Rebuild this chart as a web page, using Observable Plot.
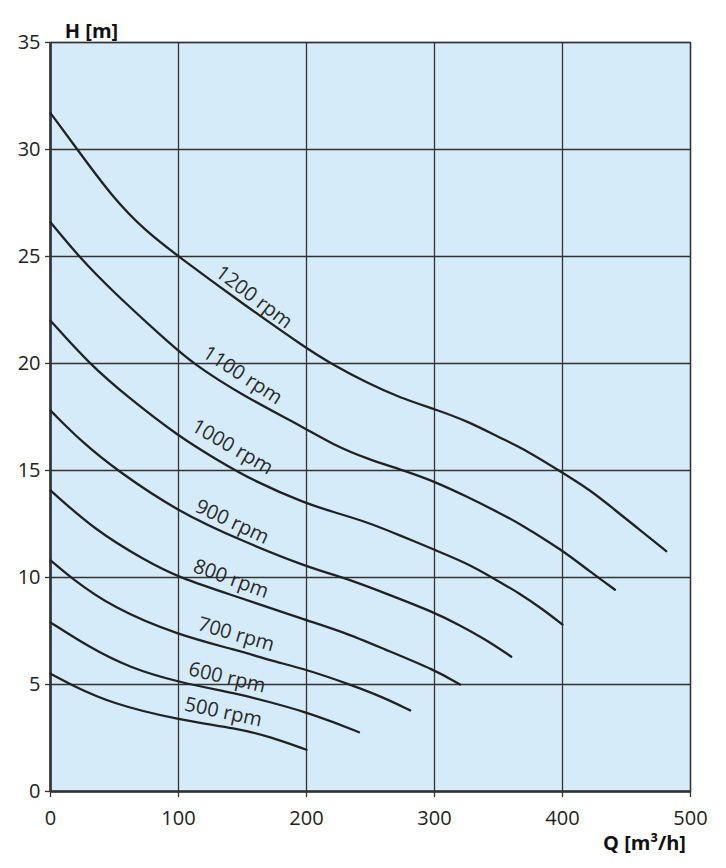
<!DOCTYPE html>
<html><head><meta charset="utf-8">
<script src="https://cdn.jsdelivr.net/npm/d3@7"></script>
<script src="https://cdn.jsdelivr.net/npm/@observablehq/plot@0.6"></script>
<style>body{margin:0;background:#fff}</style>
</head><body><div id="chart"></div>
<script>
// Pump curves: Q [m3/h] vs H [m] for several speeds
const speeds = ["1200 rpm","1100 rpm","1000 rpm","900 rpm","800 rpm","700 rpm","600 rpm","500 rpm"];
const q1200 = [0,21,48,74,100,150,200,219,247,273,301,326,352,367,398,422,440,461,481];
const h1200 = [31.7,30.0,27.8,26.2,25.0,22.8,20.7,20.0,19.1,18.4,17.85,17.3,16.5,16.1,14.97,14.07,13.2,12.2,11.23];
const q1100 = [0,22,48,90,111,150,200,221,247,276,301,326,352,367,400,422,441];
const h1100 = [26.6,25.0,23.4,21.1,20.0,18.5,16.95,16.2,15.55,15.0,14.46,13.76,12.98,12.5,11.27,10.25,9.43];
const q1000 = [0,30,61,100,130,159,200,221,247,273,301,326,345,367,385,400];
const h1000 = [22.0,20.0,18.4,16.6,15.5,14.5,13.45,13.06,12.6,11.97,11.27,10.65,10.0,9.24,8.5,7.8];
const q900 = [0,25,52,100,150,200,229,260,301,320,340,360];
const h900 = [17.8,16.3,15.0,13.06,11.7,10.5,10.0,9.3,8.34,7.76,7.1,6.3];
const q800 = [0,35,74,100,146,200,229,260,301,320];
const h800 = [14.07,12.2,10.8,10.0,9.1,8.0,7.45,6.67,5.66,5.0];
const q700 = [0,15.6,48,100,146,172,200,234,260,281];
const h700 = [10.8,10.0,8.6,7.3,6.6,6.12,5.7,5.0,4.4,3.79];
const q600 = [0,30,61,100,146,172,200,221,241];
const h600 = [7.9,6.75,5.8,5.1,4.57,4.17,3.7,3.24,2.77];
const q500 = [0,15.6,48,100,146,172,200];
const h500 = [5.5,5.0,4.1,3.35,2.95,2.55,1.95];

// Label anchor points along each curve (data coords) and text angle
const labelQ = [159,150,142,142,141,145,138,135];
const labelH = [23.1,19.45,16.1,12.6,9.94,7.34,5.32,3.71];
const labelAngle = [37,33,30,25,20,16,13,12];

const xTicks = [0,100,200,300,400,500];
const yTicks = [0,5,10,15,20,25,30,35];

const qs = [q1200,q1100,q1000,q900,q800,q700,q600,q500];
const hs = [h1200,h1100,h1000,h900,h800,h700,h600,h500];
const rows = [];
speeds.forEach((s,i) => qs[i].forEach((q,j) => rows.push({speed:s, q, h:hs[i][j]})));
const labels = speeds.map((s,i) => ({text:s, q:labelQ[i], h:labelH[i], a:labelAngle[i]}));

const chart = Plot.plot({
  width: 726, height: 868,
  marginLeft: 50, marginRight: 36, marginTop: 42, marginBottom: 77,
  style: {fontFamily: "'Open Sans', sans-serif", fontSize: "20px", color: "#222", background: "#fff"},
  x: {domain: [0,500]},
  y: {domain: [0,35]},
  marks: [
    Plot.frame({fill: "#d5ebfa", stroke: null}),
    Plot.gridX(xTicks, {stroke: "#333", strokeOpacity: 1, strokeWidth: 1.3}),
    Plot.gridY(yTicks, {stroke: "#333", strokeOpacity: 1, strokeWidth: 1.3}),
    Plot.frame({stroke: "#333", strokeWidth: 1.3}),
    Plot.ruleX([0], {stroke: "#333", strokeWidth: 2.6}),
    Plot.ruleY([0], {stroke: "#333", strokeWidth: 2.6}),
    Plot.axisX({ticks: xTicks, tickSize: 6, tickPadding: 13, label: null, fontSize: 20, stroke: "#333", strokeWidth: 1.3}),
    Plot.axisY({ticks: yTicks, tickSize: 5, tickPadding: 5, label: null, fontSize: 20, stroke: "#333", strokeWidth: 1.3}),
    Plot.line(rows, {x: "q", y: "h", z: "speed", curve: "basis", stroke: "#222", strokeWidth: 2.3}),
    Plot.text(labels, {x: "q", y: "h", text: "text", rotate: "a", fontSize: 20, fill: "#2a2a2a"}),
    Plot.text(["H [m]"], {frameAnchor: "top-left", dx: 41, dy: -19, fontWeight: "bold", fontSize: 20, fill: "#111", textAnchor: "middle", style: "letter-spacing:1px"}),
    Plot.text(["Q [m³/h]"], {frameAnchor: "bottom-right", dx: -46, dy: 58, fontWeight: "bold", fontSize: 20, fill: "#111", textAnchor: "middle"})
  ]
});
document.getElementById("chart").appendChild(chart);
</script>
</body></html>
